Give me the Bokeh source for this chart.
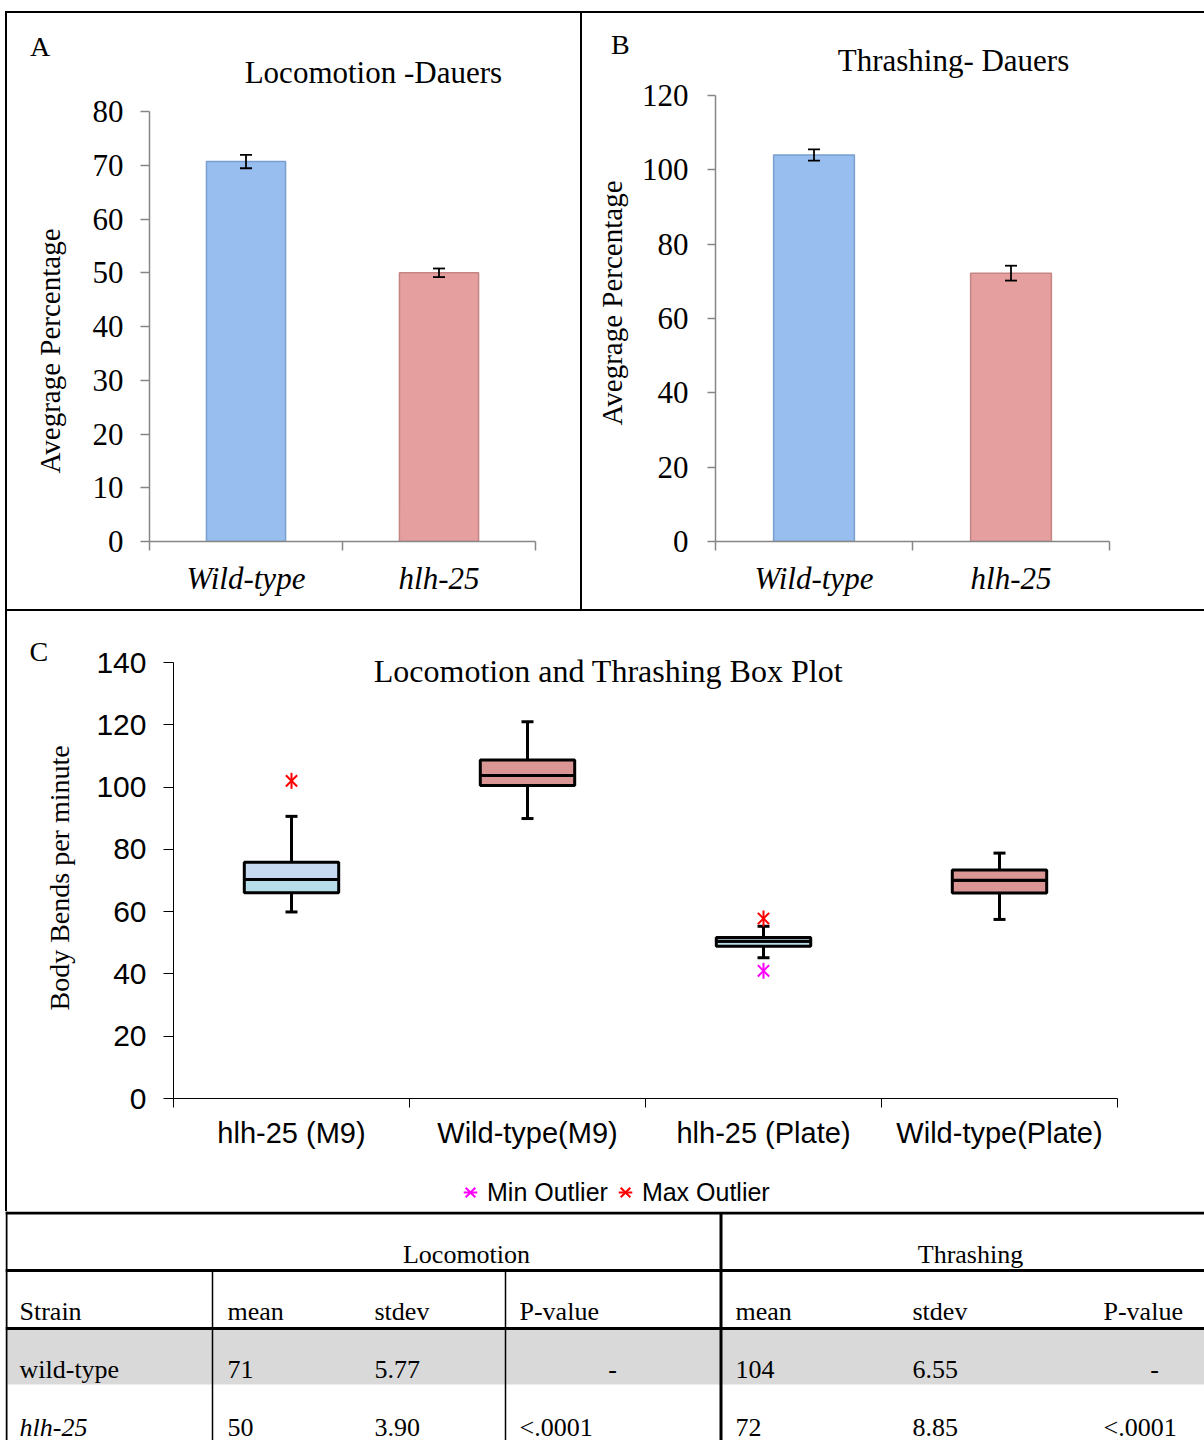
import numpy as np
from bokeh.plotting import figure
from bokeh.models import (Range1d, FixedTicker, ColumnDataSource, Whisker, TeeHead,
                          Label, Legend, LegendItem, Spacer, Title)
from bokeh.layouts import column, row
from bokeh.core.properties import value
from bokeh.embed import file_html
from bokeh.resources import INLINE

# ---------------- data ----------------
dauer_strains = ["Wild-type", "hlh-25"]
loco_mean = [70.7, 50.0]
loco_err = [1.25, 0.8]
thrash_mean = [104.0, 72.2]
thrash_err = [1.5, 2.0]
loco_ticks = [0, 10, 20, 30, 40, 50, 60, 70, 80]
thrash_ticks = [0, 20, 40, 60, 80, 100, 120]

box_groups = ["hlh-25 (M9)", "Wild-type(M9)", "hlh-25 (Plate)", "Wild-type(Plate)"]
box_min = [59.9, 89.9, 45.2, 57.5]
box_q1 = [66.1, 100.5, 48.9, 66.0]
box_median = [70.3, 103.7, 50.5, 70.1]
box_q3 = [75.9, 108.7, 51.7, 73.4]
box_max = [90.6, 121.0, 55.3, 78.8]
max_outlier_group = ["hlh-25 (M9)", "hlh-25 (Plate)"]
max_outlier_value = [102.0, 57.8]
min_outlier_group = ["hlh-25 (Plate)"]
min_outlier_value = [41.0]
box_ticks = [0, 20, 40, 60, 80, 100, 120, 140]

table_groups = ["Locomotion", "Thrashing"]
table_headers = ["Strain", "mean", "stdev", "P-value", "mean", "stdev", "P-value"]
table_strains = ["wild-type", "hlh-25"]
table_loco_mean = ["71", "50"]
table_loco_sd = ["5.77", "3.90"]
table_loco_p = ["-", "<.0001"]
table_thr_mean = ["104", "72"]
table_thr_sd = ["6.55", "8.85"]
table_thr_p = ["-", "<.0001"]

# ---------------- styles ----------------
SERIF = "Liberation Serif"
SANS = "Liberation Sans"
GRAY = "#868686"
MIN_COLOR = "#FF00FF"
MAX_COLOR = "#FF0000"
bar_fill = ["#97BEEE", "#E49F9E"]
bar_edge = ["#7A9FCF", "#C58584"]
box_upper_fill = ["#C6D9F1", "#DA9694", "#C6D9F1", "#DA9694"]
box_lower_fill = ["#B7DEE8", "#DA9694", "#B7DEE8", "#DA9694"]
MARKER_SIZE = 16


def add_title(p, x, y, text, size):
    p.add_layout(Label(x=x, y=y, text=text, text_font=SERIF, text_font_size=size,
                       text_align="center", text_baseline="middle", text_color="black"))


def side_title(p, text, side, offset, standoff, size):
    kw = dict(text=text, align="left", offset=offset, vertical_align="bottom",
              text_font=SERIF, text_font_size=size, text_font_style="normal",
              text_color="black")
    try:
        t = Title(standoff=standoff, **kw)
    except Exception:
        t = Title(standoff=max(standoff, 0), **kw)
    p.add_layout(t, side)


def bar_panel(width, height, borders, y_top, means, errs, yticks, tick_out, tick_standoff,
              ylab_offset, ylab_standoff, title, title_pos, letter, letter_offset, letter_standoff):
    n = len(dauer_strains)
    xs = [i + 0.5 for i in range(n)]
    p = figure(width=width, height=height, x_range=Range1d(0, n),
               y_range=Range1d(yticks[0], y_top),
               output_backend="svg", toolbar_location=None,
               min_border_left=borders[0], min_border_right=borders[1],
               min_border_top=borders[2], min_border_bottom=borders[3])
    p.outline_line_color = None
    p.grid.visible = False
    src = ColumnDataSource(dict(
        x=xs, top=means,
        lower=[m - e for m, e in zip(means, errs)],
        upper=[m + e for m, e in zip(means, errs)],
        fill=bar_fill, edge=bar_edge))
    p.vbar(x="x", top="top", bottom=0, width=0.41, fill_color="fill",
           line_color="edge", line_width=1.5, source=src)
    p.add_layout(Whisker(base="x", upper="upper", lower="lower", source=src,
                         line_color="black", line_width=1.8, level="annotation",
                         upper_head=TeeHead(size=12, line_color="black", line_width=1.8),
                         lower_head=TeeHead(size=12, line_color="black", line_width=1.8)))
    xa = p.xaxis[0]
    xa.ticker = FixedTicker(ticks=xs, minor_ticks=list(range(n + 1)))
    xa.major_label_overrides = {x: s for x, s in zip(xs, dauer_strains)}
    xa.major_label_text_font = SERIF
    xa.major_label_text_font_style = "italic"
    xa.major_label_text_font_size = "31px"
    xa.major_label_text_color = "black"
    xa.major_tick_line_color = None
    xa.major_tick_out = 0
    xa.major_tick_in = 0
    xa.minor_tick_out = 9
    xa.minor_tick_in = 0
    xa.minor_tick_line_color = GRAY
    xa.minor_tick_line_width = 1.5
    xa.major_label_standoff = 10
    xa.axis_line_color = GRAY
    xa.axis_line_width = 1.5
    ya = p.yaxis[0]
    ya.ticker = FixedTicker(ticks=yticks)
    ya.bounds = (yticks[0], yticks[-1])
    ya.minor_tick_line_color = None
    ya.major_tick_out = tick_out
    ya.major_tick_in = 0
    ya.major_tick_line_color = GRAY
    ya.major_tick_line_width = 1.5
    ya.axis_line_color = GRAY
    ya.axis_line_width = 1.5
    ya.major_label_standoff = tick_standoff
    ya.major_label_text_font = SERIF
    ya.major_label_text_font_size = "31px"
    ya.major_label_text_color = "black"
    side_title(p, "Avegrage Percentage", "left", ylab_offset, ylab_standoff, "29px")
    add_title(p, title_pos[0], title_pos[1], title, "31px")
    side_title(p, letter, "above", letter_offset, letter_standoff, "28px")
    return p


pA = bar_panel(573, 596, (141, 45, 34, 68), 91.92, loco_mean, loco_err, loco_ticks, 9, 17,
               68, 48, "Locomotion -Dauers", (1.160, 87.28), "A", -119.5, -28)
pB = bar_panel(622, 596, (133, 95, 34, 68), 132.91, thrash_mean, thrash_err, thrash_ticks, 8, 19,
               116, 22, "Thrashing- Dauers", (1.208, 129.45), "B", -104.4, -25.6)

# ---------------- panel C : box plot ----------------
nb = len(box_groups)
bx = [i + 0.5 for i in range(nb)]
pC = figure(width=1197, height=550, x_range=Range1d(0, nb),
            y_range=Range1d(box_ticks[0], 141.93),
            output_backend="svg", toolbar_location=None,
            min_border_left=166, min_border_right=87, min_border_top=45, min_border_bottom=63)
pC.outline_line_color = None
pC.grid.visible = False
bsrc = ColumnDataSource(dict(x=bx, lo=box_min, q1=box_q1, med=box_median, q3=box_q3, hi=box_max,
                             up=box_upper_fill, low=box_lower_fill))
pC.add_layout(Whisker(base="x", upper="hi", lower="lo", source=bsrc, level="underlay",
                      line_color="black", line_width=3,
                      upper_head=TeeHead(size=12, line_color="black", line_width=3),
                      lower_head=TeeHead(size=12, line_color="black", line_width=3)))
pC.vbar(x="x", bottom="q1", top="med", width=0.4, fill_color="low", line_color="black",
        line_width=3, source=bsrc)
pC.vbar(x="x", bottom="med", top="q3", width=0.4, fill_color="up", line_color="black",
        line_width=3, source=bsrc)

min_x = [box_groups.index(g) + 0.5 for g in min_outlier_group]
max_x = [box_groups.index(g) + 0.5 for g in max_outlier_group]
for xs_, ys_, col in ((min_x, min_outlier_value, MIN_COLOR), (max_x, max_outlier_value, MAX_COLOR)):
    pC.scatter(x=xs_, y=ys_, marker="x", size=MARKER_SIZE, line_color=col, line_width=2)
    pC.scatter(x=xs_, y=ys_, marker="dash", angle=np.pi / 2, size=MARKER_SIZE, line_color=col,
               line_width=2)

xc = pC.xaxis[0]
xc.ticker = FixedTicker(ticks=bx, minor_ticks=list(range(nb + 1)))
xc.major_label_overrides = {x: s for x, s in zip(bx, box_groups)}
xc.major_label_text_font = SANS
xc.major_label_text_font_size = "29px"
xc.major_label_text_color = "black"
xc.major_tick_line_color = None
xc.major_tick_out = 0
xc.major_tick_in = 0
xc.minor_tick_out = 9
xc.minor_tick_in = 0
xc.minor_tick_line_color = "black"
xc.major_label_standoff = 9
xc.axis_line_color = "black"
yc = pC.yaxis[0]
yc.ticker = FixedTicker(ticks=box_ticks)
yc.bounds = (box_ticks[0], box_ticks[-1])
yc.minor_tick_line_color = None
yc.major_tick_out = 10
yc.major_tick_in = 0
yc.major_tick_line_color = "black"
yc.axis_line_color = "black"
yc.major_label_standoff = 17
yc.major_label_text_font = SANS
yc.major_label_text_font_size = "30px"
yc.major_label_text_color = "black"
side_title(pC, "Body Bends per minute", "left", 88, 38, "28px")
add_title(pC, 1.843, 137.3, "Locomotion and Thrashing Box Plot", "32px")
side_title(pC, "C", "above", -144, -20, "28px")

# legend strip under panel C (shared legend for the outlier markers)
pL = figure(width=1197, height=50, x_range=Range1d(0, 1), y_range=Range1d(0, 1),
            output_backend="svg", toolbar_location=None, x_axis_location=None,
            y_axis_location=None, min_border=0)
pL.outline_line_color = None
pL.grid.visible = False
items = []
for lab, col in (("Min Outlier", MIN_COLOR), ("Max Outlier", MAX_COLOR)):
    # legend proxies, kept outside the visible range of this strip
    r1 = pL.scatter(x=[-5], y=[-5], marker="x", size=MARKER_SIZE, line_color=col, line_width=2)
    r2 = pL.scatter(x=[-5], y=[-5], marker="dash", angle=np.pi / 2, size=MARKER_SIZE,
                    line_color=col, line_width=2)
    items.append(LegendItem(label=lab, renderers=[r1, r2]))
pL.add_layout(Legend(items=items, orientation="horizontal", location=(280, -1),
                     glyph_width=34, glyph_height=40, label_standoff=0, spacing=0,
                     padding=0, margin=0, border_line_color=None, background_fill_alpha=0,
                     label_text_font=SANS, label_text_font_size="25px",
                     label_text_color="black"))

# ---------------- table ----------------
pT = figure(width=1199, height=229, x_range=Range1d(5, 1204), y_range=Range1d(1440, 1211),
            output_backend="svg", toolbar_location=None, x_axis_location=None,
            y_axis_location=None, min_border=0)
pT.outline_line_color = None
pT.grid.visible = False
pT.quad(left=7, right=1204, top=1329, bottom=1384, fill_color="#D9D9D9", line_color=None)
pT.segment(x0=[5, 6, 720.5, 5, 5, 212, 505], y0=[1212.5, 1211, 1212, 1270, 1328, 1270, 1270],
           x1=[1204, 6, 720.5, 1204, 1204, 212, 505], y1=[1212.5, 1440, 1440, 1270, 1328, 1440, 1440],
           line_width=[3, 2, 3, 3, 3, 1.5, 1.5], line_color="black")

tfont = value(SERIF)
pT.text(x=[466, 970], y=[1254, 1254], text=table_groups, text_font=tfont,
        text_font_size="26px", text_align="center", text_baseline="middle", text_color="black")
col_x = [19, 227, 374, 519, 735, 912, 1103]
pT.text(x=col_x, y=[1311] * len(col_x), text=table_headers, text_font=tfont,
        text_font_size="26px", text_align="left", text_baseline="middle", text_color="black")
row_y = [1369, 1427]
dash_x = [612, 1154]
for i, yv in enumerate(row_y):
    style = "italic" if table_strains[i].startswith("hlh") else "normal"
    pT.text(x=[col_x[0]], y=[yv], text=[table_strains[i]], text_font=tfont,
            text_font_style=style, text_font_size="26px", text_align="left",
            text_baseline="middle", text_color="black")
    vals = [table_loco_mean[i], table_loco_sd[i], table_thr_mean[i], table_thr_sd[i]]
    pT.text(x=[col_x[1], col_x[2], col_x[4], col_x[5]], y=[yv] * 4, text=vals, text_font=tfont,
            text_font_size="26px", text_align="left", text_baseline="middle", text_color="black")
    for pv, lx, dx in ((table_loco_p[i], col_x[3], dash_x[0]), (table_thr_p[i], col_x[6], dash_x[1])):
        if pv == "-":
            pT.text(x=[dx], y=[yv], text=[pv], text_font=tfont, text_font_size="26px",
                    text_align="center", text_baseline="middle", text_color="black")
        else:
            pT.text(x=[lx], y=[yv], text=[pv], text_font=tfont, text_font_size="26px",
                    text_align="left", text_baseline="middle", text_color="black")


# ---------------- page layout ----------------
def blk(w, h):
    return Spacer(width=w, height=h, styles={"background-color": "black"})


def gap(w, h):
    return Spacer(width=w, height=h)


page = column(
    gap(1204, 11),
    row(gap(5, 2), blk(1199, 2)),
    row(gap(5, 596), blk(2, 596), pA, blk(2, 596), pB),
    row(gap(5, 2), blk(1199, 2)),
    row(gap(5, 600), blk(2, 600), column(pC, pL)),
    row(gap(5, 229), pT),
)

open("out.html", "w").write(file_html(page, INLINE))
